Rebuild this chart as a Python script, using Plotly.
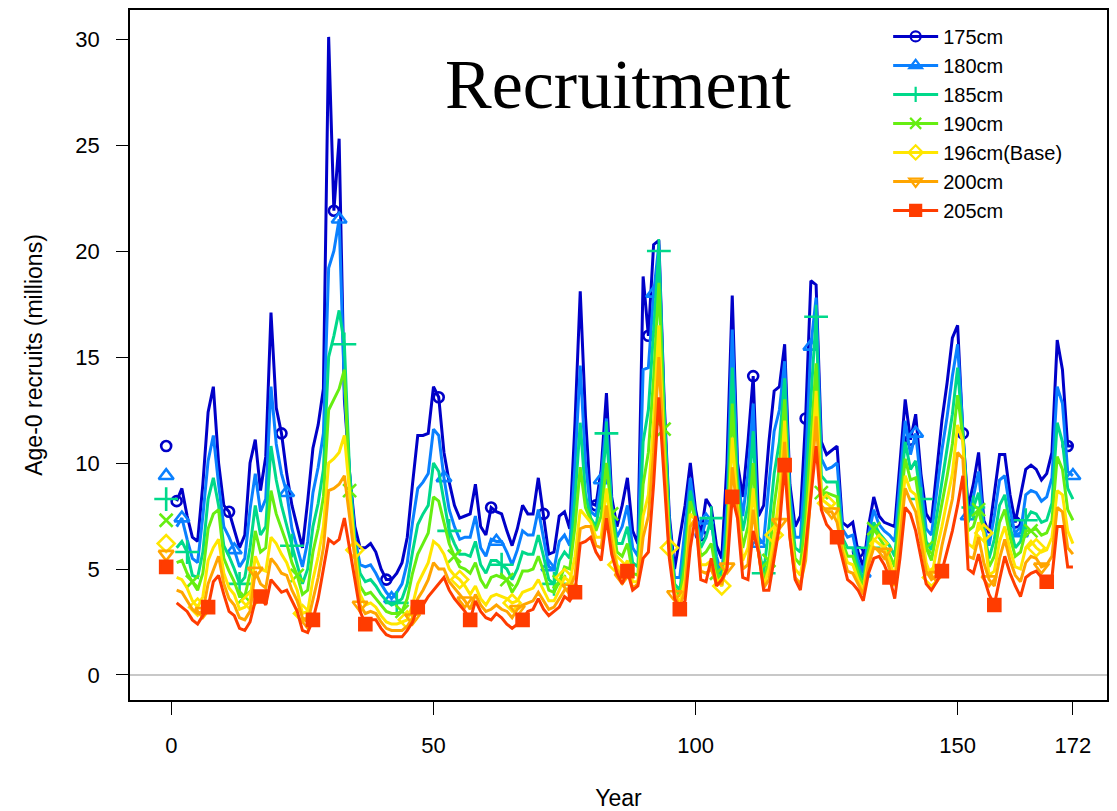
import plotly.graph_objects as go

years = list(range(1, 173))

s175 = [8.2, 8.8, 7.5, 6.5, 6.3, 9.0, 12.4, 13.6, 10.0, 8.0, 7.7, 6.8, 6.0, 6.6, 10.0, 11.1, 8.7, 10.3, 17.1, 12.6,
        11.4, 9.5, 8.0, 7.0, 6.0, 8.2, 10.7, 11.8, 13.5, 30.1, 21.9, 25.3, 13.0, 9.5, 7.0, 6.0, 6.0, 6.2, 5.8, 5.0,
        4.5, 4.5, 4.8, 5.3, 6.5, 9.0, 11.3, 11.3, 11.4, 13.6, 13.1, 10.5, 9.1, 8.0, 7.4, 7.5, 7.6, 9.0, 7.0, 6.6,
        7.9, 7.7, 7.6, 6.8, 6.1, 6.9, 8.0, 7.6, 7.6, 9.3, 7.6, 5.7, 5.8, 7.5, 7.7, 6.9, 11.9, 18.1, 12.2, 8.1,
        8.0, 9.7, 13.3, 8.4, 7.0, 8.0, 9.3, 6.8, 6.2, 18.8, 16.0, 20.3, 20.5, 13.0, 7.5, 5.0, 6.5, 8.0, 10.0, 7.8,
        6.6, 8.3, 7.9, 6.1, 5.5, 10.0, 17.9, 10.0, 8.4, 11.0, 14.1, 7.5, 8.0, 11.0, 13.4, 13.6, 15.6, 9.0, 7.0, 7.5,
        12.1, 18.6, 18.4, 11.0, 10.4, 10.6, 10.8, 7.2, 7.0, 7.2, 5.8, 5.1, 7.0, 8.4, 7.5, 7.2, 7.1, 7.0, 10.0, 13.0,
        11.1, 12.3, 9.5, 7.6, 7.2, 9.5, 12.0, 13.8, 15.9, 16.5, 11.4, 7.9, 9.0, 10.5, 7.3, 6.7, 8.5, 10.4, 10.4, 8.5,
        7.2, 8.5, 9.7, 9.9, 9.7, 9.2, 9.5, 10.5, 15.8, 14.4, 10.8, 10.8]

s180 = [7.0, 7.4, 6.4, 5.5, 5.3, 7.5, 10.1, 11.3, 9.0, 7.0, 6.5, 5.9, 5.1, 5.5, 7.8, 9.5, 7.7, 8.3, 13.6, 10.9,
        9.5, 8.6, 6.9, 6.0, 5.1, 6.3, 8.6, 9.8, 11.4, 19.2, 20.0, 21.5, 13.5, 9.5, 6.5, 5.2, 5.1, 5.2, 4.8, 4.3,
        3.9, 3.6, 3.9, 4.3, 5.3, 7.2, 8.8, 9.1, 9.5, 11.6, 11.3, 9.3, 7.8, 7.0, 6.4, 6.5, 6.5, 7.5, 6.0, 5.6,
        6.4, 6.3, 6.3, 5.8, 5.2, 5.9, 6.8, 6.6, 6.6, 7.8, 6.5, 5.1, 5.0, 6.3, 6.6, 6.1, 9.9, 14.6, 10.0, 7.7,
        7.5, 9.2, 12.1, 8.0, 6.5, 7.0, 8.0, 6.0, 5.6, 14.4, 14.5, 18.0, 20.3, 12.5, 7.2, 4.6, 4.6, 7.0, 9.3, 7.5,
        6.4, 7.3, 7.2, 5.6, 4.7, 8.0, 16.3, 9.5, 7.5, 9.5, 12.8, 6.2, 6.3, 9.0, 11.5, 12.5, 14.8, 8.5, 6.5, 6.5,
        10.0, 15.5, 17.8, 10.2, 9.7, 9.8, 10.0, 6.9, 6.5, 6.6, 5.4, 4.8, 6.6, 7.8, 7.1, 6.8, 6.6, 6.3, 9.1, 12.0,
        10.4, 11.4, 9.0, 6.9, 6.6, 8.5, 10.6, 12.2, 14.1, 15.6, 11.4, 7.5, 8.4, 9.6, 7.0, 6.1, 7.5, 9.2, 9.4, 7.8,
        6.6, 6.7, 8.5, 8.7, 8.6, 8.2, 8.4, 9.3, 13.6, 12.8, 9.6, 9.4]

s185 = [6.0, 6.3, 5.8, 4.7, 4.6, 5.8, 8.3, 9.3, 8.0, 6.1, 5.6, 5.0, 4.3, 4.6, 6.0, 8.0, 6.6, 7.0, 10.8, 9.2,
        8.0, 7.0, 6.1, 5.2, 4.3, 5.0, 7.0, 8.1, 9.7, 15.0, 16.0, 17.2, 15.6, 9.5, 6.2, 4.8, 4.4, 4.5, 4.2, 3.8,
        3.5, 3.3, 3.4, 3.6, 4.3, 5.8, 7.1, 7.6, 8.0, 10.0, 9.6, 8.2, 6.8, 6.2, 5.7, 5.7, 5.6, 6.3, 5.2, 4.8,
        5.4, 5.4, 5.2, 5.0, 4.5, 5.0, 5.8, 5.7, 5.7, 6.6, 5.6, 4.5, 4.3, 5.4, 5.8, 5.5, 8.3, 11.9, 8.5, 7.4,
        7.0, 8.5, 11.4, 7.8, 6.2, 6.2, 7.0, 5.3, 5.1, 11.0, 12.5, 16.5, 20.0, 12.5, 6.9, 4.3, 4.0, 6.0, 8.7, 7.4,
        6.0, 6.5, 7.4, 5.2, 4.4, 7.0, 14.5, 9.0, 6.8, 8.0, 11.5, 6.0, 4.8, 7.0, 9.5, 11.0, 14.0, 8.0, 6.0, 5.8,
        8.5, 13.0, 16.9, 9.4, 9.1, 9.1, 9.1, 6.5, 6.0, 6.0, 5.1, 4.5, 6.0, 7.2, 6.7, 6.4, 6.1, 5.6, 8.2, 11.0,
        9.7, 10.1, 8.3, 6.3, 5.9, 7.5, 9.2, 10.6, 12.3, 14.5, 11.3, 7.2, 7.9, 8.6, 6.8, 5.5, 6.4, 8.0, 8.5, 7.0,
        6.0, 6.3, 7.3, 7.7, 7.6, 7.2, 7.3, 8.1, 11.9, 11.0, 8.8, 8.3]

s190 = [5.3, 5.4, 4.8, 4.4, 4.0, 4.8, 6.9, 7.6, 7.8, 5.5, 4.9, 4.4, 3.7, 3.7, 4.8, 6.8, 5.8, 6.0, 8.7, 7.6,
        6.9, 6.2, 5.3, 4.7, 3.8, 4.0, 5.8, 6.9, 8.4, 12.5, 13.0, 13.5, 14.4, 8.7, 6.0, 4.2, 3.8, 3.9, 3.6, 3.3,
        3.0, 2.9, 2.9, 3.0, 3.6, 4.8, 5.7, 6.2, 6.7, 8.4, 8.2, 7.2, 6.2, 5.6, 5.1, 5.0, 4.8, 5.3, 4.5, 4.1,
        4.6, 4.7, 4.6, 4.5, 3.9, 4.3, 4.9, 4.9, 5.0, 5.6, 4.9, 4.0, 3.9, 4.4, 5.1, 5.0, 7.0, 9.8, 7.9, 7.3,
        6.8, 7.5, 10.0, 7.6, 5.8, 5.6, 6.2, 4.8, 4.7, 9.0, 10.5, 14.0, 18.5, 11.6, 6.5, 4.1, 3.7, 5.2, 8.2, 7.3,
        5.6, 5.8, 6.2, 4.8, 4.2, 6.3, 12.8, 8.5, 6.0, 7.0, 10.0, 5.8, 4.4, 5.4, 8.0, 9.8, 13.0, 7.5, 5.5, 5.2,
        7.3, 11.0, 14.7, 8.6, 8.6, 8.5, 8.4, 6.3, 5.6, 5.6, 4.8, 4.2, 5.8, 6.9, 6.5, 6.1, 5.7, 5.1, 7.5, 10.2,
        9.2, 9.3, 7.6, 6.0, 5.4, 6.7, 8.1, 9.4, 10.9, 13.2, 11.2, 6.8, 7.0, 7.8, 6.7, 5.1, 5.6, 7.2, 7.8, 6.5,
        5.6, 5.8, 6.8, 6.8, 6.9, 6.6, 6.7, 7.3, 10.3, 9.7, 7.8, 7.3]

s196 = [4.6, 4.5, 4.1, 3.5, 3.2, 3.7, 5.4, 6.0, 6.4, 4.8, 4.1, 3.8, 3.1, 3.2, 3.5, 5.6, 5.0, 4.9, 6.5, 6.2,
        5.7, 5.3, 4.6, 4.0, 2.9, 3.0, 4.5, 5.6, 7.0, 10.0, 10.2, 10.5, 11.3, 8.5, 5.9, 3.8, 3.3, 3.4, 3.2, 2.8,
        2.5, 2.4, 2.4, 2.5, 2.6, 3.3, 4.3, 4.8, 5.3, 6.3, 6.1, 5.7, 5.0, 4.7, 4.5, 4.2, 3.8, 4.2, 3.6, 3.3,
        3.7, 3.8, 3.7, 3.6, 3.4, 3.5, 3.9, 4.0, 4.1, 4.5, 4.0, 3.5, 3.5, 4.0, 4.6, 4.4, 5.6, 7.8, 7.5, 7.2,
        6.5, 6.5, 8.8, 6.8, 5.2, 4.9, 5.4, 4.4, 4.4, 7.5, 8.5, 12.0, 16.5, 10.5, 6.0, 3.9, 3.4, 4.5, 7.6, 7.3,
        5.2, 5.2, 5.4, 4.5, 4.2, 5.6, 11.2, 8.0, 5.4, 6.0, 8.8, 5.8, 4.2, 5.0, 6.6, 8.5, 12.0, 7.0, 5.0, 4.7,
        6.2, 9.5, 13.4, 8.3, 8.1, 7.9, 7.8, 6.0, 5.3, 5.2, 4.5, 4.0, 5.5, 6.4, 6.2, 6.0, 5.4, 4.6, 6.9, 9.4,
        8.7, 8.5, 7.0, 5.3, 4.6, 5.9, 7.0, 8.2, 9.5, 11.8, 11.0, 6.2, 6.0, 7.2, 6.7, 4.7, 4.9, 6.3, 7.0, 5.9,
        5.1, 5.0, 6.0, 6.3, 6.0, 5.8, 5.9, 6.5, 8.7, 8.5, 6.8, 6.2]

s200 = [4.0, 3.9, 3.5, 3.1, 2.9, 3.0, 4.3, 5.0, 5.6, 4.3, 3.6, 3.3, 2.7, 2.6, 3.0, 4.9, 4.3, 4.1, 5.5, 5.2,
        4.8, 4.7, 4.0, 3.5, 2.7, 2.5, 3.6, 4.6, 6.0, 8.7, 8.8, 9.0, 9.4, 7.5, 5.5, 3.3, 2.9, 3.0, 2.9, 2.5,
        2.2, 2.1, 2.1, 2.1, 2.3, 2.7, 3.6, 4.0, 4.5, 5.3, 5.0, 5.0, 4.4, 4.1, 3.8, 3.5, 3.1, 3.8, 3.3, 3.0,
        3.1, 3.3, 3.1, 3.0, 2.7, 3.1, 3.3, 3.4, 3.5, 3.9, 3.5, 3.1, 3.2, 3.6, 4.0, 4.1, 4.7, 6.9, 7.0, 7.0,
        6.1, 6.0, 8.0, 6.2, 5.0, 4.6, 5.0, 4.1, 4.3, 6.5, 7.5, 10.5, 15.0, 10.0, 5.8, 3.8, 3.2, 4.0, 7.0, 7.4,
        4.9, 4.8, 5.0, 4.3, 4.3, 5.1, 9.8, 7.7, 5.0, 5.2, 7.8, 5.8, 4.1, 4.5, 5.8, 7.2, 11.0, 6.5, 4.6, 4.3,
        5.4, 8.5, 12.2, 8.0, 7.7, 7.7, 7.2, 5.8, 4.9, 4.8, 4.3, 3.8, 5.2, 6.0, 5.9, 5.8, 5.0, 4.2, 6.3, 8.8,
        8.2, 7.7, 6.3, 4.9, 4.5, 4.7, 6.1, 7.2, 8.3, 10.5, 10.2, 5.6, 5.5, 6.5, 5.3, 4.5, 4.2, 5.5, 6.4, 5.4,
        4.7, 4.4, 5.3, 5.6, 5.5, 5.1, 5.2, 5.6, 7.9, 7.7, 6.0, 5.7]

s205 = [3.4, 3.2, 3.0, 2.6, 2.4, 2.8, 3.2, 4.4, 4.7, 3.8, 3.0, 2.8, 2.2, 2.1, 2.5, 3.5, 3.7, 3.3, 4.5, 4.2,
        3.9, 4.0, 3.5, 3.0, 2.1, 2.0, 2.6, 3.6, 5.0, 6.4, 6.2, 6.4, 7.4, 6.0, 4.5, 3.0, 2.4, 2.6, 2.6, 2.2,
        1.9, 1.8, 1.8, 1.8, 2.1, 2.5, 3.2, 3.3, 3.7, 4.0, 4.3, 4.6, 4.0, 3.6, 3.3, 3.0, 2.6, 3.5, 3.0, 2.7,
        2.6, 2.9, 2.7, 2.4, 2.2, 2.4, 2.6, 3.0, 3.1, 3.6, 3.1, 2.8, 3.0, 3.2, 3.7, 3.5, 3.9, 6.2, 6.3, 6.5,
        5.8, 5.4, 7.4, 5.7, 4.8, 4.3, 4.9, 4.0, 4.2, 5.5, 5.8, 9.0, 13.1, 9.5, 5.5, 3.6, 3.1, 3.5, 6.0, 7.5,
        4.5, 4.4, 5.5, 4.2, 4.5, 5.0, 8.4, 7.4, 4.6, 4.5, 6.8, 5.8, 4.0, 4.0, 5.5, 7.0, 9.9, 6.5, 4.5, 4.0,
        6.0, 8.5, 10.8, 7.8, 7.1, 6.8, 6.5, 5.5, 4.5, 4.3, 4.0, 3.5, 4.8, 5.5, 5.6, 5.2, 4.6, 3.6, 5.5, 7.9,
        7.6, 6.8, 5.5, 4.3, 4.0, 4.4, 4.9, 5.8, 6.8, 8.0, 9.4, 5.0, 4.8, 5.7, 4.6, 3.8, 3.3, 4.5, 5.6, 4.8,
        4.2, 3.7, 4.6, 4.8, 4.9, 4.6, 4.4, 4.6, 7.0, 7.0, 5.1, 5.1]

# isolated markers drawn before year 0
start_x = -1
start_values = [10.8, 9.4, 8.3, 7.3, 6.2, 5.7, 5.1]

names = ["175cm", "180cm", "185cm", "190cm", "196cm(Base)", "200cm", "205cm"]
series = [s175, s180, s185, s190, s196, s200, s205]
colors = ["#0000C8", "#0A80FF", "#00D98A", "#66EE11", "#FFE600", "#FFA500", "#FF3C00"]
symbols = ["circle-open", "triangle-up-open", "cross-thin-open", "x-thin-open",
           "diamond-open", "triangle-down-open", "square"]
sizes = [10, 13, 17, 13, 13, 13, 12]

x_tickvals = [0, 50, 100, 150, 172]
y_tickvals = [0, 5, 10, 15, 20, 25, 30]

fig = go.Figure()

for k, (name, vals, col, sym, sz) in enumerate(zip(names, series, colors, symbols, sizes)):
    fig.add_trace(go.Scatter(x=years, y=vals, mode="lines", line=dict(color=col, width=3),
                             showlegend=False, legendgroup=name, hoverinfo="skip"))
    fig.add_trace(go.Scatter(x=years[k::10], y=vals[k::10], mode="markers",
                             marker=dict(symbol=sym, size=sz, color=col, line=dict(color=col, width=2.6)),
                             showlegend=False, legendgroup=name))
    fig.add_trace(go.Scatter(x=[start_x], y=[start_values[k]], mode="markers",
                             marker=dict(symbol=sym, size=sz, color=col, line=dict(color=col, width=2.6)),
                             showlegend=False, legendgroup=name))
    # legend entry
    fig.add_trace(go.Scatter(x=[None], y=[None], mode="lines+markers", name=name,
                             line=dict(color=col, width=3),
                             marker=dict(symbol=sym, size=min(sz, 11), color=col, line=dict(color=col, width=2.2)),
                             legendgroup=name))

fig.add_annotation(text="Recruitment", xref="paper", yref="paper", x=0.5, y=0.892,
                   xanchor="center", yanchor="middle", showarrow=False,
                   font=dict(family="Liberation Serif", size=70, color="black"))

axis_font = dict(family="Liberation Sans, Arial", size=22, color="black")
title_font = dict(family="Liberation Sans, Arial", size=23, color="black")

fig.update_xaxes(range=[-7.9, 178.5], tickvals=x_tickvals, ticktext=[str(v) for v in x_tickvals],
                 ticks="outside", ticklen=13, tickwidth=1, tickcolor="black",
                 showline=True, linecolor="black", linewidth=1.5, mirror=True, automargin=False,
                 showgrid=False, zeroline=False, tickfont=axis_font, ticklabelstandoff=12,
                 title=dict(text="Year", font=title_font, standoff=39))
fig.update_yaxes(range=[-1.18, 31.37], tickvals=y_tickvals, ticktext=[str(v) for v in y_tickvals],
                 ticks="outside", ticklen=12, tickwidth=1, tickcolor="black",
                 showline=True, linecolor="black", linewidth=1.5, mirror=True, automargin=False,
                 showgrid=False, zeroline=True, zerolinecolor="#C8C8C8", zerolinewidth=1.5,
                 tickfont=axis_font, ticklabelstandoff=12,
                 title=dict(text="Age-0 recruits (millions)", font=title_font, standoff=26))

fig.update_layout(
    width=1117, height=811,
    margin=dict(l=130, r=10, t=10, b=111, autoexpand=False),
    paper_bgcolor="white", plot_bgcolor="white",
    legend=dict(x=0.776, y=0.99, xanchor="left", yanchor="top",
                font=dict(family="Liberation Sans, Arial", size=20, color="black"),
                bgcolor="rgba(0,0,0,0)", traceorder="grouped", tracegroupgap=0,
                itemwidth=45),
)

fig.write_html("out.html")
